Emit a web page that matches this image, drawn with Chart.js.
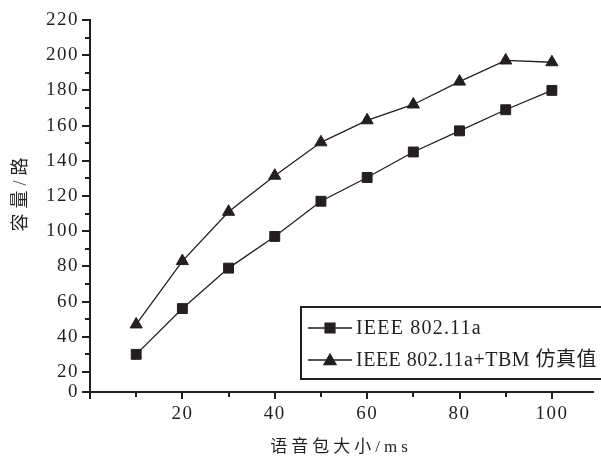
<!DOCTYPE html>
<html>
<head>
<meta charset="utf-8">
<script src="https://cdn.jsdelivr.net/npm/chart.js@4.4.1/dist/chart.umd.min.js"></script>
<style>
  html, body { margin: 0; padding: 0; background: #fff; }
</style>
</head>
<body>
<canvas id="chart" width="601" height="459"></canvas>
<script>
// packet size (ms) vs capacity (calls)
const packetSizes = [10, 20, 30, 40, 50, 60, 70, 80, 90, 100];
const capacity80211a = [30, 56, 79, 97, 117, 130.5, 145, 157, 169, 180];
const capacityTBM = [47, 83, 111, 131.5, 150.5, 163, 172, 185, 197, 196];
const seriesNames = ['IEEE 802.11a', 'IEEE 802.11a+TBM 仿真值'];

// the original axis starts a little above zero but labels its foot "0"
const yFoot = 8.6;
const xTickValues = [0, 10, 20, 30, 40, 50, 60, 70, 80, 90, 100];
const yTickValues = [yFoot, 20, 30, 40, 50, 60, 70, 80, 90, 100, 110, 120, 130, 140, 150, 160, 170, 180, 190, 200, 210, 220];
const xTitle = '语音包大小/ms';
const yTitle = '容量/路';

const ink = '#231f20';
const serif = "'Liberation Serif', serif, 'Noto Sans CJK SC'";

function isMajor(v) {
  return v === yFoot || v % 20 === 0;
}

// letter spacing for the serif labels
const spacing = {
  id: 'spacing',
  beforeDraw(chart) {
    chart.ctx.letterSpacing = '1.5px';
  }
};

// short minor ticks, longer major ones, pointing outward
const axisTicks = {
  id: 'axisTicks',
  afterDraw(chart) {
    const { ctx, scales: { x, y } } = chart;
    ctx.save();
    ctx.strokeStyle = ink;
    ctx.lineWidth = 2;
    ctx.beginPath();
    x.ticks.forEach(t => {
      const px = Math.round(x.getPixelForValue(t.value));
      const len = isMajor(t.value) ? 7 : 5;
      ctx.moveTo(px, x.top);
      ctx.lineTo(px, x.top + len);
    });
    y.ticks.forEach(t => {
      const py = Math.round(y.getPixelForValue(t.value));
      const len = isMajor(t.value) ? 8 : 5;
      ctx.moveTo(y.right, py);
      ctx.lineTo(y.right - len, py);
    });
    ctx.stroke();
    ctx.restore();
  }
};

const axisTitles = {
  id: 'axisTitles',
  afterDraw(chart) {
    const { ctx, chartArea } = chart;
    ctx.save();
    ctx.fillStyle = ink;
    ctx.textAlign = 'center';
    ctx.textBaseline = 'middle';
    ctx.font = '17px ' + serif;
    ctx.letterSpacing = '4px';
    ctx.fillText(xTitle, chartArea.left + 251, chartArea.bottom + 56);
    ctx.translate(21, 192);
    ctx.rotate(-Math.PI / 2);
    ctx.font = '18px ' + serif;
    ctx.letterSpacing = '5px';
    ctx.fillText(yTitle, 0, 0);
    ctx.restore();
  }
};

// boxed legend in the lower right corner, cut off by the right edge
const boxLegend = {
  id: 'boxLegend',
  afterDraw(chart) {
    const { ctx, chartArea } = chart;
    const left = chartArea.left + 211;
    const top = chartArea.bottom - 85;
    const bottom = chartArea.bottom - 13;
    const rows = [top + 21, top + 53];
    ctx.save();
    ctx.fillStyle = '#fff';
    ctx.fillRect(left, top, chart.width - left + 5, bottom - top);
    ctx.strokeStyle = ink;
    ctx.lineWidth = 2;
    ctx.strokeRect(left, top, chart.width - left + 5, bottom - top);
    chart.data.datasets.forEach((ds, i) => {
      const ry = rows[i];
      ctx.strokeStyle = ds.borderColor;
      ctx.lineWidth = ds.borderWidth;
      ctx.beginPath();
      ctx.moveTo(left + 7, ry);
      ctx.lineTo(left + 51, ry);
      ctx.stroke();
      ctx.fillStyle = ds.pointBackgroundColor;
      Chart.helpers.drawPoint(ctx, {
        pointStyle: ds.pointStyle,
        radius: ds.pointRadius,
        rotation: 0,
        borderWidth: ds.pointBorderWidth
      }, left + 29, ry + (ds.pointStyle === 'triangle' ? 1 : 0));
      ctx.fillStyle = ink;
      ctx.font = '20px ' + serif;
      ctx.letterSpacing = i === 0 ? '1.2px' : '0.5px';
      ctx.textAlign = 'left';
      ctx.textBaseline = 'middle';
      ctx.fillText(ds.label, left + 55, ry + 1);
    });
    ctx.restore();
  }
};

function series(values, label, style) {
  return {
    label: label,
    data: packetSizes.map((x, i) => ({ x: x, y: values[i] })),
    borderColor: ink,
    borderWidth: 1.3,
    pointStyle: style,
    pointRadius: 7,
    pointBorderWidth: 1,
    pointBackgroundColor: ink,
    pointBorderColor: ink,
    tension: 0
  };
}

new Chart(document.getElementById('chart'), {
  type: 'line',
  data: {
    datasets: [
      series(capacity80211a, seriesNames[0], 'rect'),
      series(capacityTBM, seriesNames[1], 'triangle')
    ]
  },
  options: {
    responsive: false,
    animation: false,
    devicePixelRatio: 1,
    layout: { padding: { top: 20, right: 0, left: 0, bottom: 0 } },
    plugins: {
      legend: { display: false },
      tooltip: { enabled: false }
    },
    scales: {
      x: {
        type: 'linear',
        min: 0,
        max: 108.9,
        afterBuildTicks: scale => { scale.ticks = xTickValues.map(v => ({ value: v })); },
        afterFit: scale => { scale.height = 67; },
        grid: { display: true, drawOnChartArea: false, drawTicks: true, tickLength: 7, tickColor: 'rgba(0,0,0,0)' },
        border: { display: true, color: ink, width: 2 },
        ticks: {
          autoSkip: false,
          maxRotation: 0,
          padding: 4,
          color: ink,
          font: { family: serif, size: 19 },
          callback: v => (v !== 0 && v % 20 === 0 ? String(v) : '')
        }
      },
      y: {
        min: yFoot,
        max: 220,
        afterBuildTicks: scale => { scale.ticks = yTickValues.map(v => ({ value: v })); },
        afterFit: scale => { scale.width = 90; },
        grid: { display: true, drawOnChartArea: false, drawTicks: true, tickLength: 8, tickColor: 'rgba(0,0,0,0)' },
        border: { display: true, color: ink, width: 2 },
        ticks: {
          autoSkip: false,
          padding: 3,
          color: ink,
          font: { family: serif, size: 19 },
          callback: v => (v === yFoot ? '0' : v % 20 === 0 ? String(v) : '')
        }
      }
    }
  },
  plugins: [spacing, axisTicks, axisTitles, boxLegend]
});
</script>
</body>
</html>
